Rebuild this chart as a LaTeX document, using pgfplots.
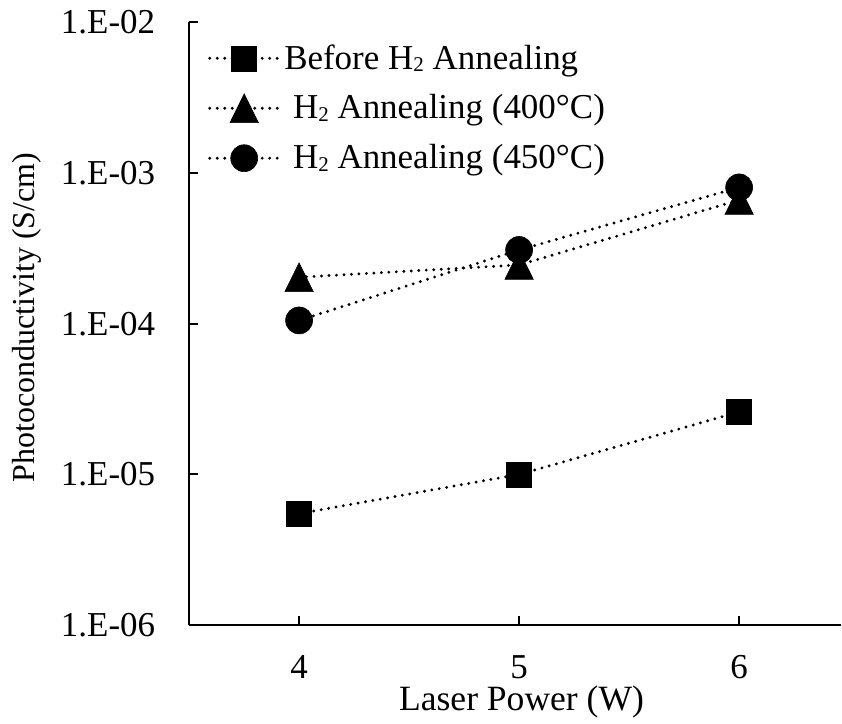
\documentclass[border=0pt]{standalone}
\usepackage{fontspec}
\setmainfont{Liberation Serif}
\usepackage{pgfplots}
\pgfplotsset{compat=1.18}

\newcommand\chartfont{\fontsize{17.5pt}{21pt}\selectfont}
% small subscript digit, set close to the baseline
\newcommand\sub[1]{\raisebox{-1.2pt}{\fontsize{10.5pt}{12pt}\selectfont #1}}

% filled triangle centred on its bounding box
\pgfdeclareplotmark{tri}{%
  \pgfpathmoveto{\pgfqpoint{0pt}{7.2pt}}%
  \pgfpathlineto{\pgfqpoint{-7.1pt}{-7.2pt}}%
  \pgfpathlineto{\pgfqpoint{7.1pt}{-7.2pt}}%
  \pgfpathclose
  \pgfusepathqfillstroke
}

\tikzset{dotline/.style={black, line width=1.6pt, line cap=round, dash pattern=on 0pt off 3.75pt}}

\begin{document}
\begin{tikzpicture}
\begin{axis}[
  scale only axis,
  width=326.35pt, height=302pt,
  ymode=log,
  xmin=3.5, xmax=6.463,
  ymin=1e-6, ymax=1e-2,
  axis x line=bottom, axis y line=left,
  axis line style={-, line width=1pt, black},
  tick align=inside,
  major tick length=4.5pt,
  tick style={line width=1pt, black},
  xtick={4,5,6}, xticklabels={4,5,6},
  ytick={1e-6,1e-5,1e-4,1e-3,1e-2},
  yticklabels={1.E-06,1.E-05,1.E-04,1.E-03,1.E-02},
  xminorticks=false, yminorticks=false,
  tick label style={font=\chartfont},
  yticklabel style={anchor=east, inner sep=0pt, xshift=-16.8pt},
  xticklabel style={anchor=base, inner sep=0pt, yshift=-26.5pt},
  xlabel={Laser Power (W)},
  ylabel={Photoconductivity (S/cm)},
  xlabel style={font=\fontsize{17.8pt}{21pt}\selectfont,
    at={(axis description cs:0.51,0)}, anchor=base, inner sep=0pt, yshift=-42.5pt},
  ylabel style={font=\fontsize{16pt}{19pt}\selectfont,
    at={([xshift=-81pt]axis description cs:0,0.51)}, anchor=center, inner sep=0pt},
  legend style={draw=none, fill=none, font=\chartfont,
    at={(axis description cs:0,1)}, anchor=north west,
    xshift=9.35pt, yshift=-5.5pt, inner sep=0pt, row sep=0pt,
    nodes={inner sep=0pt, minimum height=25pt},
    /tikz/every odd column/.append style={column sep=2pt}},
  legend cell align=left,
  legend image code/.code={%
    \draw[mark repeat=2, mark phase=2, #1]
      plot coordinates {(0pt,0pt) (17.25pt,0pt) (34.5pt,0pt)};},
]
\addplot[dotline, mark=square*, mark size=6.25pt,
  mark options={solid, fill=black, line width=0.3pt}]
  coordinates {(4,5.5e-6) (5,1.0e-5) (6,2.6e-5)};
\addlegendentry{Before H\sub{2} Annealing}

\addplot[dotline, mark=tri,
  mark options={solid, fill=black, line width=0.3pt}]
  coordinates {(4,2.03e-4) (5,2.45e-4) (6,6.6e-4)};
\addlegendentry{\hspace{4.4pt}H\sub{2} Annealing (400°C)}

\addplot[dotline, mark=*, mark size=6.75pt,
  mark options={solid, fill=black, line width=0.3pt}]
  coordinates {(4,1.05e-4) (5,3.08e-4) (6,8.0e-4)};
\addlegendentry{\hspace{4.4pt}H\sub{2} Annealing (450°C)}
\end{axis}
\path[use as bounding box] (-94.65pt,-49pt) rectangle (326.35pt,313pt);
\end{tikzpicture}
\end{document}
